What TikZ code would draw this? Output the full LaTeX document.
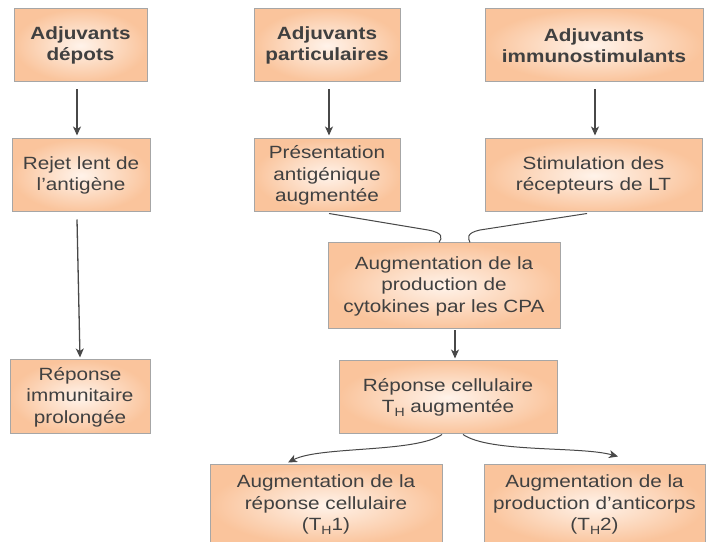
\documentclass[tikz,border=0pt]{standalone}
\usepackage{fontspec}
\setmainfont[FakeStretch=1.17]{Liberation Sans}
\usetikzlibrary{arrows.meta,calc}
\definecolor{peach}{RGB}{250,196,156}
\definecolor{peachin}{RGB}{255,243,234}
\definecolor{bordergray}{RGB}{166,166,166}
\definecolor{txt}{RGB}{64,64,64}
\definecolor{arrowgray}{RGB}{72,72,72}
\newcommand\mysubH{\raisebox{-4pt}{\fontsize{12}{12}\selectfont H}}
\begin{document}
\begin{tikzpicture}[x=1pt,y=1pt,
 box/.style={draw=bordergray, line width=1pt, inner color=peachin, outer color=peach, align=center, text=txt, font=\fontsize{17.7}{21.5}\selectfont, inner sep=0pt},
 topbox/.style={box, font=\fontsize{17.7}{21.5}\selectfont\bfseries},
 arr/.style={draw=arrowgray, line width=1.3pt, -{Stealth[length=9pt,width=8pt,inset=2.5pt]}},
 link/.style={draw=arrowgray, line width=1pt}]
\useasboundingbox (0,0) rectangle (715,541);
\node[topbox, minimum width=133, minimum height=73] (b1) at (80.5,495.5) {Adjuvants\\dépots};
\node[topbox, minimum width=146, minimum height=73] (b2) at (327,495.5) {Adjuvants\\particulaires};
\node[topbox, minimum width=218, minimum height=73] (b3) at (594,495.5) {Adjuvants\\immunostimulants};
\node[box, minimum width=138, minimum height=73] (r1) at (81,365.5) {Rejet lent de\\l’antigène};
\node[box, minimum width=146, minimum height=73] (p) at (327,365.5) {Présentation\\antigénique\\augmentée};
\node[box, minimum width=217, minimum height=73] (s) at (593.5,365.5) {Stimulation des\\récepteurs de LT};
\node[box, minimum width=232, minimum height=86] (cpa) at (444,255) {Augmentation de la\\production de\\cytokines par les CPA};
\node[box, minimum width=218, minimum height=73] (th) at (448,143.5) {Réponse cellulaire\\T\mysubH{} augmentée};
\node[box, minimum width=140, minimum height=74] (ri) at (80,144) {Réponse\\immunitaire\\prolongée};
\node[box, minimum width=232, minimum height=80] (bl) at (326,36) {Augmentation de la\\réponse cellulaire\\(T\mysubH1)};
\node[box, minimum width=221, minimum height=80] (br) at (594.5,36) {Augmentation de la\\production d’anticorps\\(T\mysubH2)};
\draw[arr] ([shift={(-3.5,-7)}]b1.south) -- ([shift={(-4,3)}]r1.north);
\draw[arr] ([shift={(2,-7)}]b2.south) -- ([shift={(2,3)}]p.north);
\draw[arr] ([shift={(1,-7)}]b3.south) -- ([shift={(1.5,3)}]s.north);
\draw[arr] ([shift={(-4,-7)}]r1.south) -- ([shift={(0,2)}]ri.north);
\draw[link] ([shift={(2,-1)}]p.south) -- (428,311) .. controls (444,308) and (442,303) .. ([xshift=-5]cpa.north);
\draw[link] ([shift={(-6.5,-1)}]s.south) -- (480,311) .. controls (466,308) and (468,303) .. ([xshift=26]cpa.north);
\draw[arr] ([shift={(11,-1)}]cpa.south) -- ([shift={(7,2)}]th.north);
\draw[arr, line width=1pt] ([xshift=-6]th.south) .. controls (415,88) and (320,95) .. ([shift={(-38,2)}]bl.north);
\draw[arr, line width=1pt] ([xshift=15]th.south) .. controls (490,88) and (580,95) .. ([shift={(23.5,8)}]br.north);
\end{tikzpicture}
\end{document}
